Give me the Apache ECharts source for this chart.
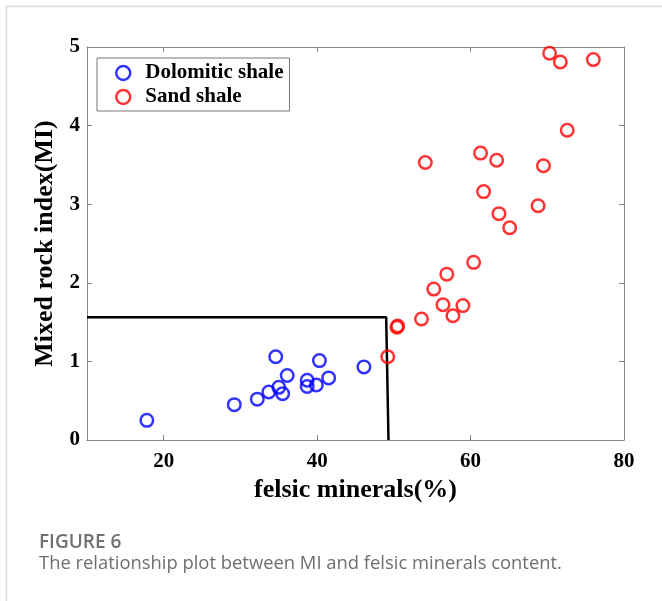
<!DOCTYPE html>
<html>
<head>
<meta charset="utf-8">
<script src="https://cdn.jsdelivr.net/npm/echarts@6/dist/echarts.min.js"></script>
<style>
html,body{margin:0;padding:0;background:#fff;}
#chart{width:662px;height:601px;}
</style>
</head>
<body>
<div id="chart"></div>
<script>
// Data
const dolomiticShale = [
  [17.8,0.25],[29.2,0.45],[32.2,0.52],[33.7,0.61],[35.0,0.67],[35.5,0.59],
  [34.6,1.06],[36.1,0.82],[38.7,0.76],[38.7,0.68],[39.9,0.70],[40.3,1.01],
  [41.5,0.79],[46.1,0.93]
];
const sandShale = [
  [49.2,1.06],[50.4,1.435],[50.5,1.45],[53.6,1.54],[55.2,1.92],[56.4,1.72],
  [56.9,2.11],[57.7,1.58],[59.0,1.71],[60.4,2.26],[54.1,3.53],[61.3,3.65],
  [61.7,3.16],[63.4,3.56],[63.7,2.88],[65.1,2.70],[68.8,2.98],[69.5,3.49],
  [72.6,3.94],[70.3,4.92],[71.7,4.81],[76.0,4.84]
];
const boundary = [[10,1.563],[49.0,1.563],[49.3,0]];
const xTicks = [20,40,60,80];
const yTicks = [0,1,2,3,4,5];
const seriesNames = ['Dolomitic shale','Sand shale'];
const xName = 'felsic minerals(%)';
const yName = 'Mixed rock index(MI)';
const figTitle = 'FIGURE 6';
const figCaption = 'The relationship plot between MI and felsic minerals content.';

const serif = '"Liberation Serif","Times New Roman",serif';
const frameColor = '#858585';
const chart = echarts.init(document.getElementById('chart'));
const axisCommon = {
  axisLine:{show:true,onZero:false,lineStyle:{color:frameColor,width:1}},
  splitLine:{show:false}
};
chart.setOption({
  animation:false,
  backgroundColor:'#fff',
  grid:{left:87,top:47,width:537,height:393},
  legend:{
    left:97, top:58, orient:'vertical',
    borderColor:'#777', borderWidth:1,
    padding:[4,6,3,18],
    itemWidth:14, itemHeight:14, itemGap:2,
    textStyle:{fontFamily:serif,fontWeight:'bold',fontSize:21,color:'#000',lineHeight:22,padding:[0,0,0,10]},
    data:[
      {name:seriesNames[0],icon:'circle',itemStyle:{color:'rgba(0,0,0,0)',borderColor:'#0000ff',borderWidth:2.5}},
      {name:seriesNames[1],icon:'circle',itemStyle:{color:'rgba(0,0,0,0)',borderColor:'#ff0000',borderWidth:2.5}}
    ]
  },
  xAxis:[
    Object.assign({}, axisCommon, {
      type:'value', position:'bottom', min:10, max:80,
      name:xName, nameLocation:'middle', nameGap:35,
      nameTextStyle:{fontFamily:serif,fontWeight:'bold',fontSize:26,color:'#000'},
      axisTick:{show:true,inside:true,length:5,customValues:xTicks,lineStyle:{color:frameColor}},
      axisLabel:{customValues:xTicks,margin:11,fontFamily:serif,fontWeight:'bold',fontSize:21,color:'#000'}
    }),
    Object.assign({}, axisCommon, {
      type:'value', position:'top', min:10, max:80,
      axisTick:{show:true,inside:true,length:5,customValues:xTicks,lineStyle:{color:frameColor}},
      axisLabel:{show:false}
    })
  ],
  yAxis:[
    Object.assign({}, axisCommon, {
      type:'value', position:'left', min:0, max:5, interval:1,
      name:yName, nameLocation:'middle', nameGap:18,
      nameTextStyle:{fontFamily:serif,fontWeight:'bold',fontSize:26,color:'#000'},
      axisTick:{show:true,inside:true,length:5,lineStyle:{color:frameColor}},
      axisLabel:{margin:7,fontFamily:serif,fontWeight:'bold',fontSize:21,color:'#000'}
    }),
    Object.assign({}, axisCommon, {
      type:'value', position:'right', min:0, max:5, interval:1,
      axisTick:{show:true,inside:true,length:5,lineStyle:{color:frameColor}},
      axisLabel:{show:false}
    })
  ],
  series:[
    {
      name:'boundary', type:'line', data:boundary, symbol:'none',
      lineStyle:{color:'#000',width:2.5}, silent:true, z:1
    },
    {
      name:seriesNames[0], type:'scatter', data:dolomiticShale,
      symbol:'circle', symbolSize:12.5,
      itemStyle:{color:'rgba(0,0,0,0)',borderColor:'#0000ff',borderWidth:2.5}, z:3
    },
    {
      name:seriesNames[1], type:'scatter', data:sandShale,
      symbol:'circle', symbolSize:12.5,
      itemStyle:{color:'rgba(0,0,0,0)',borderColor:'#ff0000',borderWidth:2.5}, z:3
    }
  ],
  graphic:[
    {type:'line',shape:{x1:6,y1:6.5,x2:662,y2:6.5},style:{stroke:'#dcdcdc',lineWidth:1.5},silent:true},
    {type:'line',shape:{x1:6.5,y1:6,x2:6.5,y2:601},style:{stroke:'#dcdcdc',lineWidth:1.5},silent:true},
    {type:'text',left:39,top:533,style:{text:figTitle,fontFamily:'"Open Sans",sans-serif',fontWeight:600,fontSize:19,fill:'#707070'}},
    {type:'text',left:39,top:555,style:{text:figCaption,fontFamily:'"Open Sans",sans-serif',fontSize:18.4,fill:'#6e6e6e'}}
  ]
});
</script>
</body>
</html>
